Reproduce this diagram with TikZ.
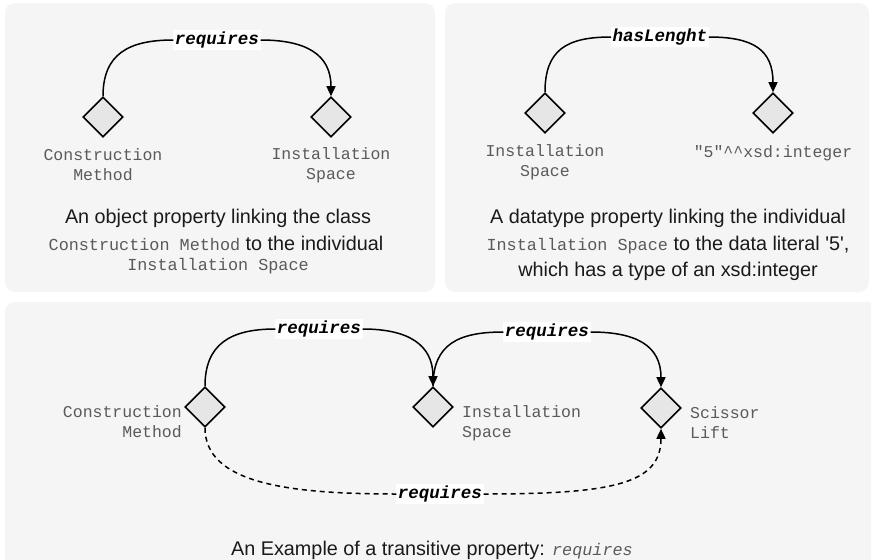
\documentclass[tikz,border=0pt]{standalone}
\usepackage{fontspec}
\setmainfont{Liberation Sans}
\newfontfamily\monofont{Liberation Mono}
\usetikzlibrary{shapes.geometric,arrows.meta}

\definecolor{panelbg}{HTML}{F5F5F5}
\definecolor{nodefill}{HTML}{E6E6E6}
\definecolor{labelgray}{HTML}{5A5A5A}
\definecolor{captext}{HTML}{1A1A1A}

\tikzset{
  panel/.style={fill=panelbg, rounded corners=10pt},
  entity/.style={diamond, aspect=1, draw=black, fill=nodefill, line width=1.6pt,
                 minimum width=40pt, minimum height=40pt, inner sep=0pt},
  elabel/.style={fill=white, inner sep=1.5pt, text=black,
                 font=\monofont\fontsize{17.5}{20}\selectfont\bfseries\itshape},
  ntext/.style={text=labelgray, font=\monofont\fontsize{16.5}{20}\selectfont, inner sep=0pt},
  caption/.style={text=captext, font=\fontsize{19.8}{23}\selectfont, inner sep=0pt},
  link/.style={draw=black, line width=1.5pt},
  tip/.style={-{Triangle[length=10pt,width=9pt]}},
  infer/.style={link, dash pattern=on 5pt off 4pt}
}
\newcommand{\mtext}[1]{{\monofont\fontsize{16.8}{20}\selectfont\color{labelgray}#1}}

\begin{document}
\begin{tikzpicture}[x=1pt,y=-1pt]
\useasboundingbox (0,0) rectangle (871,560);

% ---------- object property ----------
\fill[panel] (5,3) rectangle (435,292);
\node[entity] (p1a) at (103,117) {};
\node[entity] (p1b) at (331,117) {};
\node[elabel] (p1r) at (217,40) {requires};
\draw[link] (p1a.north) .. controls +(0,-42) and +(-45,0) .. (p1r.west);
\draw[link,tip] (p1r.east) .. controls +(45,0) and +(0,-42) .. (p1b.north);
\node[ntext, align=center] (p1at) at (103,165) {Construction\\Method};
\node[ntext, align=center] (p1bt) at (331,165) {Installation\\Space};
\node[caption] (p1c1) at (218,218) {An object property linking the class};
\node[caption] (p1c2) at (216,243) {\mtext{Construction Method} to the individual};
\node[caption] (p1c3) at (218,266) {\mtext{Installation Space}};

% ---------- datatype property ----------
\fill[panel] (445,3) rectangle (869,292);
\node[entity] (p2a) at (545,113) {};
\node[entity] (p2b) at (773,113) {};
\node[elabel] (p2r) at (660,37) {hasLenght};
\draw[link] (p2a.north) .. controls +(0,-42) and +(-45,0) .. (p2r.west);
\draw[link,tip] (p2r.east) .. controls +(45,0) and +(0,-42) .. (p2b.north);
\node[ntext, align=center] (p2at) at (545,162) {Installation\\Space};
\node[ntext] (p2bt) at (773,153) {"5"\textasciicircum\textasciicircum xsd:integer};
\node[caption] (p2c1) at (668,218) {A datatype property linking the individual};
\node[caption] (p2c2) at (668,245) {\mtext{Installation Space} to the data literal \textquotesingle 5\textquotesingle,};
\node[caption] (p2c3) at (668,271) {which has a type of an xsd:integer};

% ---------- transitive property ----------
\fill[panel] (5,302) rectangle (885,575);
\node[entity] (p3a) at (205,407) {};
\node[entity] (p3b) at (433,407) {};
\node[entity] (p3c) at (661,408) {};
\node[elabel] (p3r1) at (319,329) {requires};
\node[elabel] (p3r2) at (547,332) {requires};
\node[elabel] (p3r3) at (440,494) {requires};
\draw[link] (p3a.north) .. controls +(0,-42) and +(-45,0) .. (p3r1.west);
\draw[link,tip] (p3r1.east) .. controls +(45,0) and +(0,-42) .. (p3b.north);
\draw[link] (p3b.north) .. controls +(0,-42) and +(-45,0) .. (p3r2.west);
\draw[link,tip] (p3r2.east) .. controls +(45,0) and +(0,-42) .. (p3c.north);
\draw[infer] (p3a.south) .. controls +(0,55) and +(-110,0) .. (p3r3.west);
\draw[infer,tip] (p3r3.east) .. controls +(130,0) and +(0,55) .. (p3c.south);
\node[ntext, align=right, anchor=east] (p3at) at (182,422) {Construction\\Method};
\node[ntext, align=left, anchor=west] (p3bt) at (462,423) {Installation\\Space};
\node[ntext, align=left, anchor=west] (p3ct) at (690,423) {Scissor\\Lift};
\node[caption] (p3cap) at (432,550) {An Example of a transitive property: {\monofont\fontsize{16.8}{20}\selectfont\itshape\color{labelgray}requires}};
\end{tikzpicture}
\end{document}
